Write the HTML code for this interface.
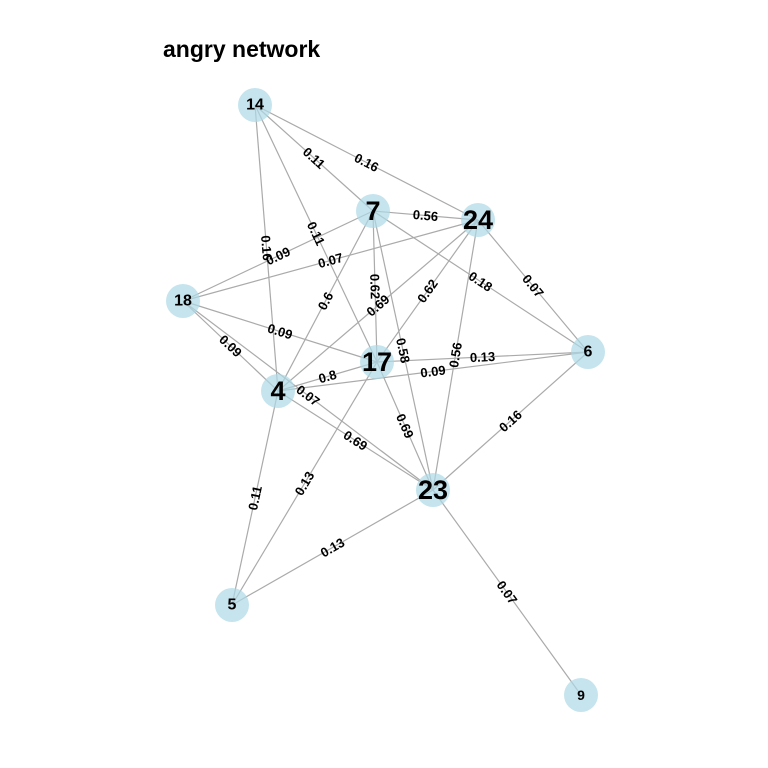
<!DOCTYPE html>
<html><head><meta charset="utf-8"><style>
body{margin:0;background:#fff}
svg{display:block;font-family:"Liberation Sans",Arial,sans-serif}
</style></head><body>
<svg id="chart" width="768" height="768">
<text x="163" y="57" font-size="23" font-weight="bold" fill="#000">angry network</text>
<g id="edges"></g><g id="elabels"></g><g id="nodes"></g>
</svg>
<script>
const nodeIds=["14","7","24","18","17","6","4","23","5","9"];
const nodeX=[255,373,478,183,377,588,278,433,232,581];
const nodeY=[105,211,220,301,362,352,391,490,605,695];
const nodeFont=[16,27,27,16,27,16,27,27,16,14];
const edgeFrom=["14","14","14","14","7","7","7","7","7","7","24","24","24","24","24","18","18","18","17","17","17","17","4","4","4","23","23","23"];
const edgeTo=["24","7","17","4","24","18","4","17","23","6","18","6","4","17","23","17","4","23","4","6","23","5","23","5","6","5","6","9"];
const edgeW=["0.16","0.11","0.11","0.16","0.56","0.09","0.6","0.62","0.58","0.18","0.07","0.07","0.69","0.62","0.56","0.09","0.09","0.07","0.8","0.13","0.69","0.13","0.69","0.11","0.09","0.13","0.16","0.07"];
const NS="http://www.w3.org/2000/svg";
const gE=document.getElementById('edges'),gL=document.getElementById('elabels'),gN=document.getElementById('nodes');
function pos(id){const i=nodeIds.indexOf(id);return [nodeX[i],nodeY[i]];}
for(let k=0;k<edgeFrom.length;k++){
 const [x1,y1]=pos(edgeFrom[k]),[x2,y2]=pos(edgeTo[k]);
 const l=document.createElementNS(NS,'line');
 l.setAttribute('x1',x1);l.setAttribute('y1',y1);l.setAttribute('x2',x2);l.setAttribute('y2',y2);
 l.setAttribute('stroke','#aaaaaa');l.setAttribute('stroke-width','1.2');
 
 
 gE.appendChild(l);
 let a=Math.atan2(y2-y1,x2-x1)*180/Math.PI;
 if(a>90)a-=180; if(a<-90)a+=180;
 const mx=(x1+x2)/2,my=(y1+y2)/2;
 const t=document.createElementNS(NS,'text');
 t.setAttribute('x',mx);t.setAttribute('y',my);
 t.setAttribute('transform','rotate('+a+' '+mx+' '+my+')');
 t.setAttribute('text-anchor','middle');t.setAttribute('dominant-baseline','central');
 t.setAttribute('font-size','13');t.setAttribute('font-weight','bold');
 t.textContent=edgeW[k];
 
 
 gL.appendChild(t);
}
for(let i=0;i<nodeIds.length;i++){
 const c=document.createElementNS(NS,'circle');
 c.setAttribute('cx',nodeX[i]);c.setAttribute('cy',nodeY[i]);c.setAttribute('r',17);
 c.setAttribute('fill','#add8e6');c.setAttribute('fill-opacity','0.7');
 
 
 gN.appendChild(c);
 const t=document.createElementNS(NS,'text');
 t.setAttribute('x',nodeX[i]);t.setAttribute('y',nodeY[i]);
 t.setAttribute('text-anchor','middle');t.setAttribute('dominant-baseline','central');
 t.setAttribute('font-size',nodeFont[i]);t.setAttribute('font-weight','bold');
 t.textContent=nodeIds[i];
 
 
 gN.appendChild(t);
}
</script>
</body></html>
